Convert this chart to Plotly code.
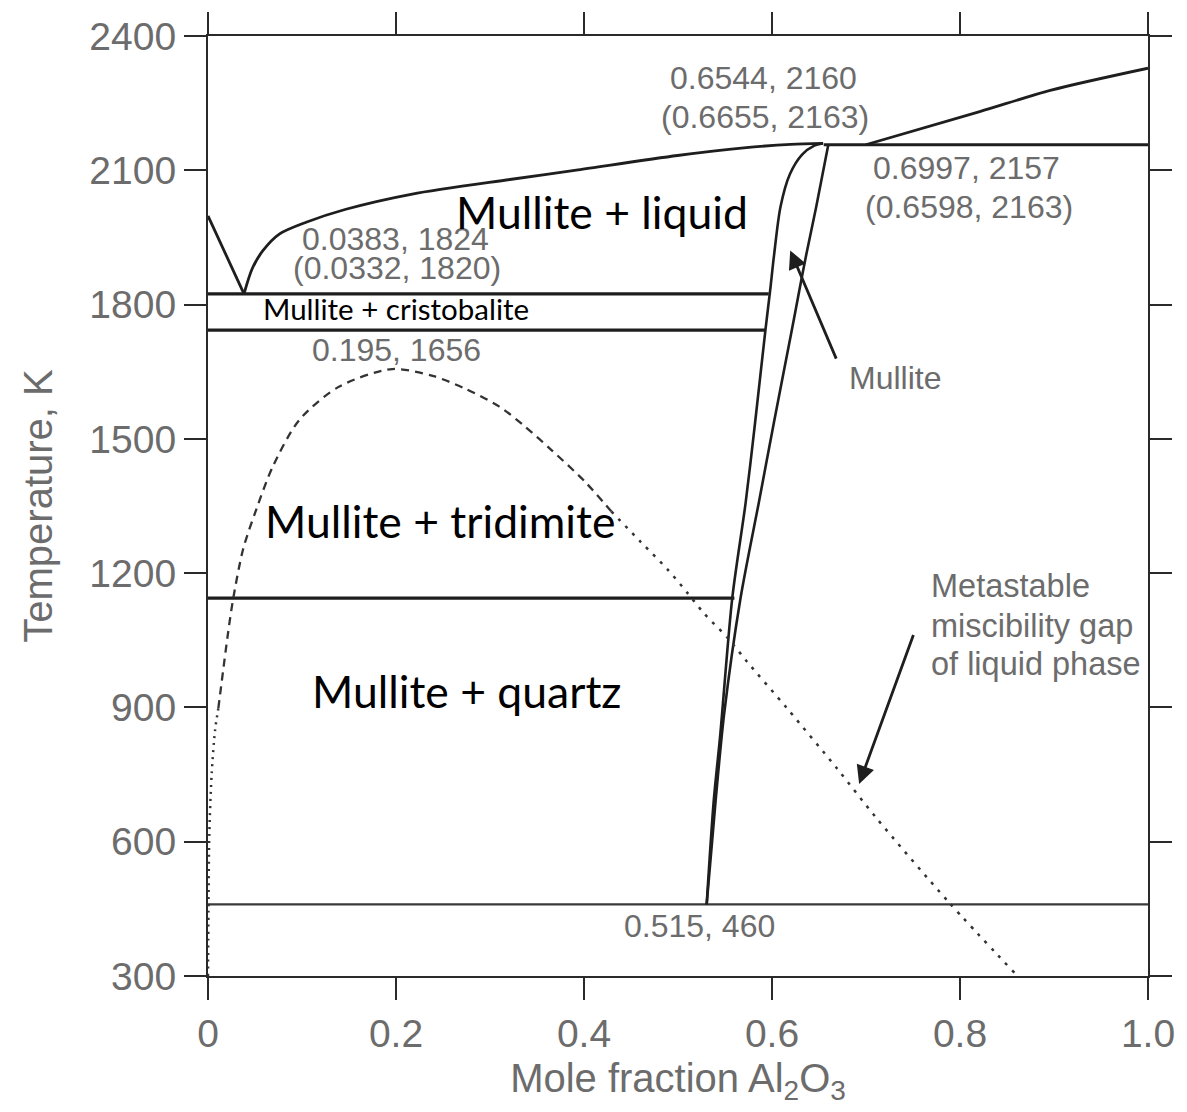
import plotly.graph_objects as go

# ---- data (mole fraction Al2O3, temperature K) ----
liq_left_x = [0.0, 0.0383]
liq_left_T = [1998, 1824]

liq_mull_x = [0.0383, 0.047, 0.0586, 0.0762, 0.1044, 0.1467, 0.2173, 0.323, 0.3937, 0.4995, 0.57, 0.62, 0.6544]
liq_mull_T = [1824, 1880, 1921, 1958, 1984, 2013, 2047, 2080, 2101, 2133, 2150, 2158, 2160]

liq_right_x = [0.6997, 0.821, 0.897, 1.0]
liq_right_T = [2157, 2231, 2279, 2328]

# isotherms: (T, x_start, x_end)
iso_T = [2157, 1824, 1743, 1144, 460]
iso_x0 = [0.655, 0.0, 0.0, 0.0, 0.0]
iso_x1 = [1.0, 0.5965, 0.593, 0.560, 1.0]

mull_left_x = [0.5305, 0.538, 0.545, 0.5577, 0.572, 0.582, 0.593, 0.598, 0.602, 0.609, 0.619, 0.632, 0.645, 0.654]
mull_left_T = [460, 691, 840, 1144, 1358, 1536, 1743, 1831, 1907, 2018, 2091, 2135, 2155, 2160]
mull_right_x = [0.5305, 0.540, 0.549, 0.5665, 0.586, 0.602, 0.621, 0.629, 0.636, 0.647, 0.660]
mull_right_T = [460, 691, 884, 1144, 1358, 1536, 1742, 1831, 1907, 2018, 2158]

gap_low_left_x = [0.0, 0.0005, 0.0014, 0.0039, 0.0074, 0.011]
gap_low_left_T = [300, 450, 618, 751, 847, 898]
gap_top_x = [0.011, 0.0215, 0.0268, 0.0374, 0.0515, 0.0691, 0.0974, 0.1397, 0.196, 0.24, 0.2737, 0.31,
             0.337, 0.3654, 0.4007, 0.429]
gap_top_T = [898, 1069, 1143, 1254, 1343, 1439, 1543, 1617, 1656, 1640, 1612, 1572,
             1528, 1475, 1405, 1338]
gap_low_right_x = [0.429, 0.4607, 0.489, 0.510, 0.5277, 0.553, 0.5735, 0.616, 0.669, 0.711, 0.788, 0.858]
gap_low_right_T = [1338, 1269, 1208, 1156, 1110, 1055, 1002, 898, 764, 653, 465, 307]

x_ticks = [0, 0.2, 0.4, 0.6, 0.8, 1.0]
x_ticktext = ["0", "0.2", "0.4", "0.6", "0.8", "1.0"]
y_ticks = [300, 600, 900, 1200, 1500, 1800, 2100, 2400]

gray_labels = ["0.6544, 2160", "(0.6655, 2163)", "0.6997, 2157", "(0.6598, 2163)",
               "0.0383, 1824", "(0.0332, 1820)", "0.195, 1656", "Mullite", "0.515, 460"]
gray_x = [0.591, 0.593, 0.807, 0.810, 0.199, 0.201, 0.200, 0.731, 0.523]
gray_T = [2306, 2219, 2105, 2018, 1946, 1882, 1699, 1635, 411]

meta_lines = ["Metastable", "miscibility gap", "of liquid phase"]
meta_x = 0.767
meta_T = [1171, 1082, 997]

phase_labels = ["Mullite + liquid", "Mullite + cristobalite", "Mullite + tridimite", "Mullite + quartz"]
phase_x = [0.4196, 0.2005, 0.2464, 0.2751]
phase_T = [2008, 1792, 1318, 937]
phase_size = [44.5, 29.5, 44.5, 44.5]

LINE = "#1e1e1e"
GRAY = "#6c6c6c"

fig = go.Figure()

def line(x, y, width=2.8, dash="solid", color=LINE, shape="linear"):
    fig.add_trace(go.Scatter(x=x, y=y, mode="lines", showlegend=False, hoverinfo="skip",
                             line=dict(color=color, width=width, dash=dash, shape=shape,
                                       smoothing=0.8 if shape == "spline" else None)))

line(liq_left_x, liq_left_T)
line(liq_mull_x, liq_mull_T, shape="spline")
line(liq_right_x, liq_right_T, shape="spline")
for T, a, b in zip(iso_T, iso_x0, iso_x1):
    w = 2.4 if T == 460 else 3.2
    c = "#3a3a3a" if T == 460 else LINE
    line([a, b], [T, T], width=w, color=c)
line(mull_left_x, mull_left_T, width=2.6, shape="spline")
line(mull_right_x, mull_right_T, width=2.6, shape="spline")
line(gap_low_left_x, gap_low_left_T, width=2.5, dash="2px,5px", color="#333333", shape="spline")
line(gap_top_x, gap_top_T, width=2.3, dash="8px,6px", color="#333333", shape="spline")
line(gap_low_right_x, gap_low_right_T, width=2.5, dash="3px,7px", color="#333333", shape="spline")

annos = []
for t, x, y in zip(gray_labels, gray_x, gray_T):
    annos.append(dict(x=x, y=y, xref="x", yref="y", text=t, showarrow=False,
                      font=dict(family="Liberation Sans, Arial", size=32, color=GRAY)))
for t, y in zip(meta_lines, meta_T):
    annos.append(dict(x=meta_x, y=y, xref="x", yref="y", text=t, showarrow=False, xanchor="left",
                      font=dict(family="Liberation Sans, Arial", size=32.5, color=GRAY)))
for t, x, y, s in zip(phase_labels, phase_x, phase_T, phase_size):
    annos.append(dict(x=x, y=y, xref="x", yref="y", text=t, showarrow=False,
                      font=dict(family="Lato", size=s, color="black")))

# arrows
annos.append(dict(x=0.6194, y=1921, ax=0.669, ay=1676, xref="x", yref="y", axref="x", ayref="y",
                  text="", showarrow=True, arrowhead=2, arrowsize=1.3, arrowwidth=2.8, arrowcolor=LINE))
annos.append(dict(x=0.6927, y=729, ax=0.751, ay=1065, xref="x", yref="y", axref="x", ayref="y",
                  text="", showarrow=True, arrowhead=2, arrowsize=1.3, arrowwidth=2.8, arrowcolor=LINE))

axis_common = dict(showline=True, linecolor="#2a2a2a", linewidth=2.2, mirror="ticks",
                   ticks="outside", ticklen=22, tickwidth=2.2, tickcolor="#2a2a2a",
                   showgrid=False, zeroline=False,
                   tickfont=dict(family="Liberation Sans, Arial", size=39, color=GRAY))

fig.update_layout(
    width=1187, height=1112,
    margin=dict(l=208, r=34, t=31, b=136),
    plot_bgcolor="white", paper_bgcolor="white",
    xaxis=dict(range=[0, 1], tickvals=x_ticks, ticktext=x_ticktext,
               title=dict(text="Mole fraction Al<sub>2</sub>O<sub>3</sub>", standoff=10,
                          font=dict(family="Liberation Sans, Arial", size=40, color=GRAY)),
               **axis_common),
    yaxis=dict(range=[300, 2400], tickvals=y_ticks,
               title=dict(text="Temperature, K", standoff=24,
                          font=dict(family="Liberation Sans, Arial", size=40, color=GRAY)),
               **axis_common),
    annotations=annos,
)

fig.write_html("out.html", config={"displayModeBar": False},
               post_script="document.body.style.margin='0px';document.body.style.overflow='hidden';")
